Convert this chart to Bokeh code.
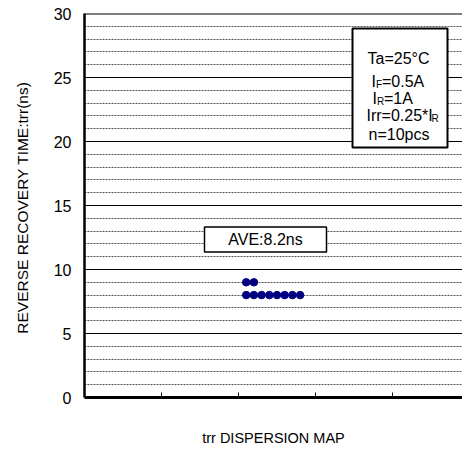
from bokeh.plotting import figure
from bokeh.models import Range1d, FixedTicker, Span, BoxAnnotation, Label
from bokeh.embed import file_html
from bokeh.resources import INLINE

# ---- data ----
sample_pos = [2.1, 2.2, 2.1, 2.2, 2.3, 2.4, 2.5, 2.6, 2.7, 2.8]
sample_trr = [9, 9, 8, 8, 8, 8, 8, 8, 8, 8]
y_ticks = [0, 5, 10, 15, 20, 25, 30]
y_minor = [v for v in range(0, 31) if v % 5 != 0]
x_ticks = [1, 2, 3, 4]
ave = sum(sample_trr) / len(sample_trr)

FONT = "Liberation Sans"

p = figure(width=462, height=452, output_backend="svg", toolbar_location=None,
           x_range=Range1d(0, 4.909), y_range=Range1d(0, 30),
           min_border_left=84, min_border_right=0, min_border_top=13, min_border_bottom=55)
p.outline_line_color = None
p.background_fill_color = "white"
p.border_fill_color = "white"

# y axis
ya = p.yaxis[0]
ya.ticker = FixedTicker(ticks=y_ticks, minor_ticks=y_minor)
ya.axis_line_width = 2.5
ya.axis_line_color = "black"
ya.major_tick_in = 0
ya.major_tick_out = 0
ya.minor_tick_in = 0
ya.minor_tick_out = 0
ya.major_label_standoff = 13
ya.major_label_text_font = FONT
ya.major_label_text_font_size = "16px"
ya.major_label_text_color = "black"
ya.axis_label = "REVERSE  RECOVERY TIME:trr(ns)"
ya.axis_label_text_font = FONT
ya.axis_label_text_font_style = "normal"
ya.axis_label_text_font_size = "15.5px"
ya.axis_label_text_color = "black"
ya.axis_label_standoff = 20

# x axis
xa = p.xaxis[0]
xa.ticker = FixedTicker(ticks=x_ticks)
xa.major_label_overrides = {t: "" for t in x_ticks}
xa.axis_line_width = 3
xa.axis_line_color = "black"
xa.major_tick_in = 5
xa.major_tick_out = 0
xa.major_tick_line_width = 1
xa.minor_tick_in = 0
xa.minor_tick_out = 0
xa.axis_label = "trr DISPERSION MAP"
xa.axis_label_text_font = FONT
xa.axis_label_text_font_style = "normal"
xa.axis_label_text_font_size = "14.5px"
xa.axis_label_text_color = "black"
xa.axis_label_standoff = 32

# grids
p.xgrid.grid_line_color = None
p.ygrid.ticker = FixedTicker(ticks=y_ticks, minor_ticks=y_minor)
p.ygrid.grid_line_color = "black"
p.ygrid.grid_line_width = 1
p.ygrid.minor_grid_line_color = "#555555"
p.ygrid.minor_grid_line_dash = "2 1"
p.ygrid.minor_grid_line_width = 1

# top border
p.add_layout(Span(location=30, dimension="width", line_color="black", line_width=2))

# data points
p.scatter(sample_pos, sample_trr, size=7.5, color="#000080", line_color="#000080")


def px(xp):
    return (xp - 84) / 77.0


def py(yp):
    return (397 - yp) / 12.8


# average box
p.add_layout(BoxAnnotation(left=px(204), right=px(326), top=py(226.5), bottom=py(251.5),
                           fill_color="white", fill_alpha=1, line_color="black", line_alpha=1,
                           line_width=1.5))
p.add_layout(Label(x=px(265), y=py(239), text=f"AVE:{ave:.1f}ns", text_align="center",
                   text_baseline="middle", text_font=FONT, text_font_size="16px", text_color="black"))

# condition box
p.add_layout(BoxAnnotation(left=px(352), right=px(447), top=py(28), bottom=py(147),
                           fill_color="white", fill_alpha=1, line_color="black", line_alpha=1,
                           line_width=2))


def lab(x, y, t, size="16px"):
    p.add_layout(Label(x=px(x), y=py(y), text=t, text_align="left", text_baseline="alphabetic",
                       text_font=FONT, text_font_size=size, text_color="black"))


lab(367, 58, "Ta=25°C")
lab(371, 81, "I")
lab(375.5, 84, "F", "10px")
lab(381.5, 81, "=0.5A")
lab(372, 98, "I")
lab(376.5, 101, "R", "10px")
lab(383.5, 98, "=1A")
lab(366, 115, "Irr=0.25*I")
lab(431, 118, "R", "10px")
lab(368, 134, "n=10pcs")

open("out.html", "w").write(file_html(p, INLINE))
